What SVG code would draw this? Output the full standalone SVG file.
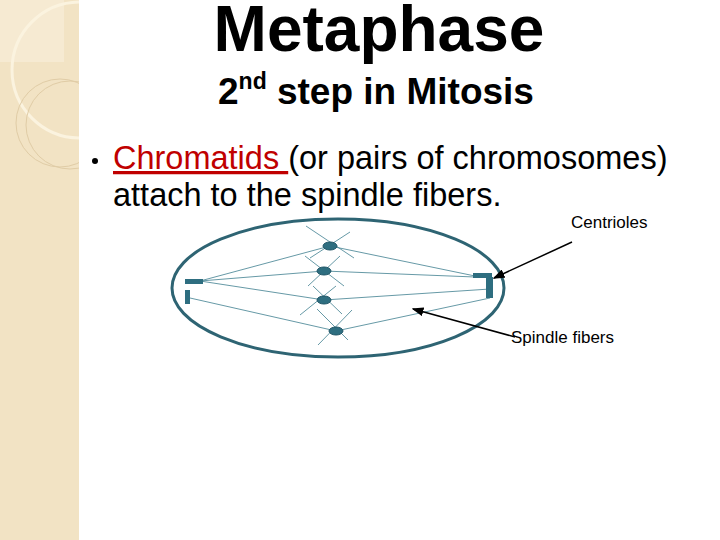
<svg xmlns="http://www.w3.org/2000/svg" width="720" height="540" viewBox="0 0 720 540">
<style>
.t{font-family:"Liberation Sans",Arial,sans-serif;fill:#000}
.sp{stroke:#3f7f8f;stroke-width:0.8;fill:none}
.ch{fill:#2e6e80;stroke:#1f5566;stroke-width:1}
</style>
<defs><marker id="a" markerWidth="8" markerHeight="6" refX="7" refY="3" orient="auto"><path d="M0,0L8,3L0,6z" fill="#000"/></marker>
<clipPath id="c"><rect width="79" height="540"/></clipPath></defs>
<rect width="720" height="540" fill="#fff"/>
<g clip-path="url(#c)">
<rect width="79" height="540" fill="#f2e3c4"/>
<rect width="64" height="62" fill="#f6ead2"/>
<circle cx="80" cy="70" r="68" fill="none" stroke="#fbf3df" stroke-width="3"/>
<circle cx="60" cy="123" r="44" fill="none" stroke="#e0cca6" stroke-width="1"/>
<circle cx="70" cy="125" r="44" fill="none" stroke="#e0cca6" stroke-width="1"/>
</g>
<text class="t" x="379" y="51" font-size="64" font-weight="bold" text-anchor="middle">Metaphase</text>
<text class="t" x="218" y="104" font-size="37" font-weight="bold">2<tspan font-size="23" dy="-15">nd</tspan><tspan dy="15"> step in Mitosis</tspan></text>
<circle cx="95" cy="161" r="3" fill="#000"/>
<text class="t" x="113" y="169" font-size="32.5"><tspan fill="#c00000" text-decoration="underline">Chromatids </tspan>(or pairs of chromosomes)</text>
<text class="t" x="113" y="206" font-size="32.5">attach to the spindle fibers.</text>
<text class="t" x="571" y="228" font-size="17">Centrioles</text>
<text class="t" x="511" y="343" font-size="17">Spindle fibers</text>
<g id="cell"><ellipse cx="338" cy="288" rx="166" ry="69" fill="none" stroke="#2e6473" stroke-width="3"/></g>
<g id="connectors">
<path class="sp" d="M200,281L330,246M200,281L324,271M200,281L324,300M190,298L336,331M475,276L330,246M475,277L324,271M490,289L324,300M490,298L336,331"/>
<path class="sp" d="M306,226L354,258M350,232L310,258M305,256L344,286M340,256L308,286M313,286L342,314M336,286L300,315M317,309L348,340M352,310L318,345"/>
<line x1="572" y1="242" x2="494" y2="278" stroke="#000" stroke-width="1.5" marker-end="url(#a)"/>
<line x1="515" y1="337" x2="413" y2="309" stroke="#000" stroke-width="1.5" marker-end="url(#a)"/>
</g>
<g id="chromosomes">
<ellipse class="ch" cx="330" cy="246" rx="7" ry="4"/>
<ellipse class="ch" cx="324" cy="271" rx="7" ry="4"/>
<ellipse class="ch" cx="324" cy="300" rx="7" ry="4"/>
<ellipse class="ch" cx="336" cy="331" rx="7" ry="4"/>
</g>
<g id="centrioles" fill="#2e6e80">
<rect x="185" y="279" width="18" height="5"/>
<rect x="185" y="290" width="5" height="14"/>
<rect x="473" y="273" width="19" height="5"/>
<rect x="486" y="277" width="7" height="21"/>
</g>
</svg>
